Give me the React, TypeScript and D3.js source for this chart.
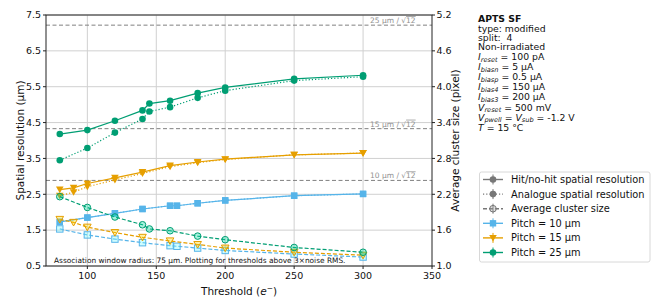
import React from 'react';
import * as d3 from 'd3';

// thresholds (e-) per pitch
const thr10 = [80, 100, 120, 140, 160, 165, 180, 200, 250, 300];
const hit10 = [1.73, 1.85, 1.97, 2.09, 2.18, 2.18, 2.25, 2.33, 2.46, 2.51];
const ana10 = [1.73, 1.85, 1.97, 2.09, 2.18, 2.18, 2.25, 2.33, 2.46, 2.51];
const clu10 = [1.62, 1.52, 1.45, 1.39, 1.34, 1.33, 1.30, 1.26, 1.20, 1.15];

const thr15 = [80, 90, 100, 120, 140, 160, 180, 200, 250, 300];
const hit15 = [2.63, 2.68, 2.80, 2.96, 3.12, 3.30, 3.40, 3.48, 3.60, 3.65];
const ana15 = [2.46, 2.56, 2.71, 2.90, 3.08, 3.27, 3.38, 3.47, 3.60, 3.65];
const clu15 = [1.78, 1.73, 1.65, 1.56, 1.48, 1.42, 1.36, 1.30, 1.23, 1.18];

const thr25 = [80, 100, 120, 140, 145, 160, 180, 200, 250, 300];
const hit25 = [4.18, 4.29, 4.55, 4.84, 5.03, 5.11, 5.32, 5.48, 5.72, 5.82];
const ana25 = [3.45, 3.79, 4.22, 4.60, 4.81, 4.93, 5.19, 5.39, 5.67, 5.78];
const clu25 = [2.16, 1.98, 1.82, 1.69, 1.62, 1.59, 1.50, 1.44, 1.31, 1.23];

const pitches = [10, 15, 25];
const colors = ['#56B4E9', '#E69F00', '#009E73'];
const markers = ['square', 'triangle', 'circle'];

const xTicks = [100, 150, 200, 250, 300, 350];
const yTicks = [0.5, 1.5, 2.5, 3.5, 4.5, 5.5, 6.5, 7.5];
const y2Ticks = [1.0, 1.6, 2.2, 2.8, 3.4, 4.0, 4.6, 5.2];

const infoLines = [
  ['APTS SF'],
  ['type: modified'],
  ['split:\u00a0\u00a04'],
  ['Non-irradiated'],
  ['I', 'reset', ' = 100 pA'],
  ['I', 'biasn', ' = 5 µA'],
  ['I', 'biasp', ' = 0.5 µA'],
  ['I', 'bias4', ' = 150 µA'],
  ['I', 'bias3', ' = 200 µA'],
  ['V', 'reset', ' = 500 mV'],
  ['V', 'pwell', ' = ', 'V', 'sub', ' = -1.2 V'],
  ['T = 15 °C'],
];
const infoY = [19, 28.3, 37.5, 46.7, 56.7, 66.8, 76.9, 87, 97, 107.2, 117.3, 127.3];

const W = 664, H = 307;
const m = { l: 46, r: 432, t: 15, b: 266 };
const font = 'DejaVu Sans, sans-serif';

const x = d3.scaleLinear().domain([70, 350]).range([m.l, m.r]);
const y = d3.scaleLinear().domain([0.5, 7.5]).range([m.b, m.t]);
const y2 = d3.scaleLinear().domain([1.0, 5.2]).range([m.b, m.t]);

function Marker({ kind, cx, cy, color, open }: any) {
  const fill = open ? d3.color(color)!.brighter(0.9).copy({ opacity: 0.35 }).toString() : color;
  const sw = open ? 1 : 0;
  if (kind === 'square') return <rect x={cx - 3.2} y={cy - 3.2} width={6.4} height={6.4} fill={fill} stroke={color} strokeWidth={sw} />;
  if (kind === 'triangle') return <path d={`M${cx - 3.8},${cy - 3}L${cx + 3.8},${cy - 3}L${cx},${cy + 3.6}Z`} fill={fill} stroke={color} strokeWidth={sw} />;
  return <circle cx={cx} cy={cy} r={3.3} fill={fill} stroke={color} strokeWidth={sw} />;
}

function Series({ xs, vs, color, kind, dash, scale, open }: any) {
  const line = d3.line<number>().x((_, i) => x(xs[i])).y(v => scale(v));
  return (
    <g>
      <path d={line(vs) || ''} fill="none" stroke={color} strokeWidth={1.2} strokeDasharray={dash} />
      {vs.map((v: number, i: number) => (
        <Marker key={i} kind={kind} cx={x(xs[i])} cy={scale(v)} color={color} open={open} />
      ))}
    </g>
  );
}

export default function App() {
  const data = [
    { xs: thr10, hit: hit10, ana: ana10, clu: clu10 },
    { xs: thr15, hit: hit15, ana: ana15, clu: clu15 },
    { xs: thr25, hit: hit25, ana: ana25, clu: clu25 },
  ];
  const refs = pitches.map(p => ({ p, v: p / Math.sqrt(12) }));
  const legend = [
    { label: 'Hit/no-hit spatial resolution', color: '#777', dash: undefined, kind: 'circle', open: false },
    { label: 'Analogue spatial resolution', color: '#777', dash: '1.2,2', kind: 'circle', open: false },
    { label: 'Average cluster size', color: '#777', dash: '4,2', kind: 'circle', open: true },
    ...pitches.map((p, i) => ({ label: `Pitch = ${p} µm`, color: colors[i], dash: undefined, kind: markers[i], open: false })),
  ];
  return (
    <svg width={W} height={H} style={{ position: 'absolute', left: 0, top: 0, background: '#fff' }} fontFamily={font}>
      {/* grid */}
      {xTicks.slice(0, -1).map(t => (
        <line key={t} x1={x(t)} x2={x(t)} y1={m.t} y2={m.b} stroke="#d0d0d0" strokeWidth={1} />
      ))}
      {yTicks.map(t => (
        <line key={t} x1={m.l} x2={m.r} y1={y(t)} y2={y(t)} stroke="#d0d0d0" strokeWidth={1} />
      ))}
      {/* pitch / sqrt(12) references */}
      {refs.map(r => (
        <g key={r.p}>
          <line x1={m.l} x2={m.r} y1={y(r.v)} y2={y(r.v)} stroke="#808080" strokeWidth={1} strokeDasharray="4,2.5" />
          <text x={370} y={y(r.v) - 2} fontSize={7.5} fill="#909090">
            {r.p} µm / √<tspan textDecoration="overline">12</tspan>
          </text>
        </g>
      ))}
      {/* series */}
      {data.map((d, i) => (
        <g key={i}>
          <Series xs={d.xs} vs={d.clu} color={colors[i]} kind={markers[i]} dash="4,2" scale={y2} open />
          <Series xs={d.xs} vs={d.ana} color={colors[i]} kind={markers[i]} dash="1.2,2" scale={y} />
          <Series xs={d.xs} vs={d.hit} color={colors[i]} kind={markers[i]} scale={y} />
        </g>
      ))}
      <text x={54} y={263} fontSize={7.4} fill="#111">
        Association window radius: 75 µm. Plotting for thresholds above 3×noise RMS.
      </text>
      {/* frame */}
      <rect x={m.l} y={m.t} width={m.r - m.l} height={m.b - m.t} fill="none" stroke="#222" strokeWidth={1} />
      {/* left axis */}
      {yTicks.map(t => (
        <g key={t}>
          <line x1={m.l - 3} x2={m.l} y1={y(t)} y2={y(t)} stroke="#222" />
          <text x={m.l - 5} y={y(t)} dy="0.35em" textAnchor="end" fontSize={9.5} fill="#111">{t.toFixed(1)}</text>
        </g>
      ))}
      {/* right axis */}
      {y2Ticks.map(t => (
        <g key={t}>
          <line x1={m.r} x2={m.r + 3} y1={y2(t)} y2={y2(t)} stroke="#222" />
          <text x={m.r + 4.5} y={y2(t)} dy="0.35em" fontSize={9.5} fill="#111">{t.toFixed(1)}</text>
        </g>
      ))}
      {/* bottom axis */}
      {xTicks.map(t => (
        <g key={t}>
          <line x1={x(t)} x2={x(t)} y1={m.b} y2={m.b + 3} stroke="#222" />
          <text x={x(t)} y={m.b + 13} textAnchor="middle" fontSize={9.5} fill="#111">{t}</text>
        </g>
      ))}
      <text x={(m.l + m.r) / 2} y={295} textAnchor="middle" fontSize={10.5} fill="#111">
        Threshold (<tspan fontStyle="italic">e</tspan><tspan dy={-4} fontSize={7.5}>−</tspan><tspan dy={4}>)</tspan>
      </text>
      <text transform={`translate(24,${(m.t + m.b) / 2}) rotate(-90)`} textAnchor="middle" fontSize={10.5} fill="#111">
        Spatial resolution (µm)
      </text>
      <text transform={`translate(459,${(m.t + m.b) / 2}) rotate(-90)`} textAnchor="middle" fontSize={10.5} fill="#111">
        Average cluster size (pixel)
      </text>
      {/* info block */}
      {infoLines.map((ln, i) => {
        const yy = infoY[i] + 3.4;
        if (ln.length === 1) {
          return (
            <text key={i} x={478} y={yy} fontSize={9.3} fontWeight={i === 0 ? 'bold' : 'normal'} fill="#111">
              {ln[0].startsWith('T =') ? <><tspan fontStyle="italic">T</tspan>{ln[0].slice(1)}</> : ln[0]}
            </text>
          );
        }
        const parts: any[] = [];
        for (let k = 0; k < ln.length; k += 3) {
          parts.push(<tspan key={k} fontStyle="italic">{ln[k]}</tspan>);
          parts.push(<tspan key={k + 'b'} fontStyle="italic" fontSize={6.6} dy={1.6}>{ln[k + 1]}</tspan>);
          parts.push(<tspan key={k + 'c'} dy={-1.6}>{ln[k + 2]}</tspan>);
        }
        return <text key={i} x={478} y={yy} fontSize={9.3} fill="#111">{parts}</text>;
      })}
      {/* legend */}
      <rect x={479.5} y={172} width={170.5} height={90} rx={2} fill="#fff" stroke="#d8d8d8" />
      {legend.map((e, i) => {
        const ly = 179.5 + i * 14.6;
        return (
          <g key={i}>
            <line x1={483} x2={503} y1={ly} y2={ly} stroke={e.color} strokeWidth={1.4} strokeDasharray={e.dash} />
            <line x1={493} x2={493} y1={ly - 5} y2={ly + 5} stroke={e.color} strokeWidth={1} />
            <Marker kind={e.kind} cx={493} cy={ly} color={e.color} open={e.open} />
            <text x={511} y={ly} dy="0.35em" fontSize={9.8} fill="#111">{e.label}</text>
          </g>
        );
      })}
    </svg>
  );
}
